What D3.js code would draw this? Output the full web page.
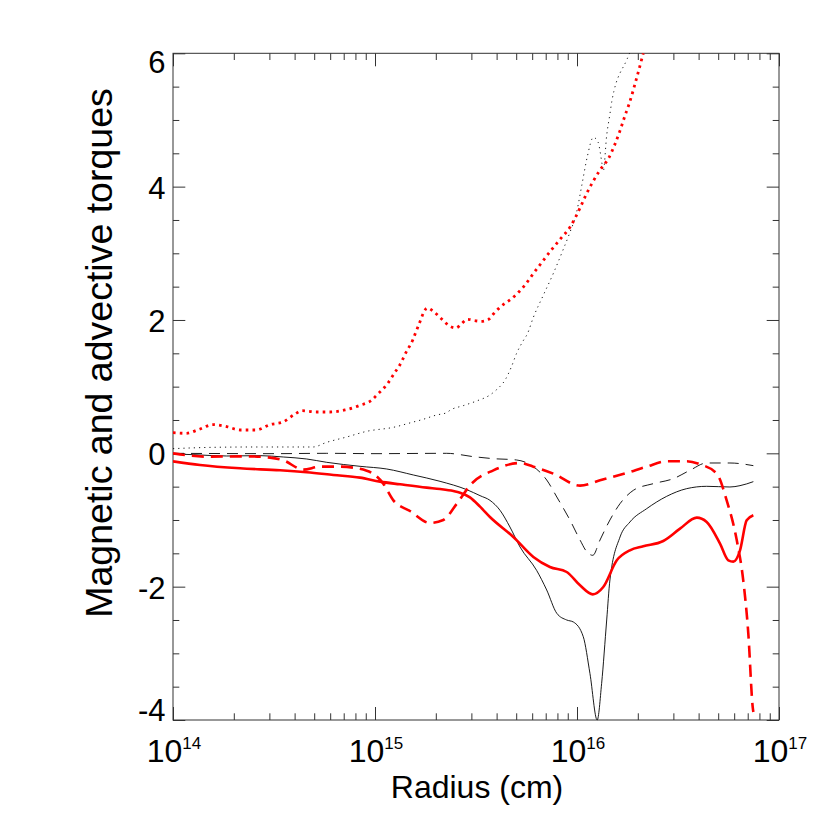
<!DOCTYPE html>
<html>
<head>
<meta charset="utf-8">
<script src="https://cdn.jsdelivr.net/npm/d3@7/dist/d3.min.js"></script>
<style>
  html, body { margin: 0; padding: 0; background: #fff; }
  svg { display: block; font-family: "Liberation Sans", Arial, Helvetica, sans-serif; }
</style>
</head>
<body>
<svg id="chart" width="830" height="830"></svg>
<script>
// ---- Data (x given as log10 of radius in cm) ----
const xTickExponents = [14, 15, 16, 17];
const yTickValues = [-4, -2, 0, 2, 4, 6];

const blackSolidLogR = [14.0, 14.1, 14.266, 14.431, 14.546, 14.662, 14.761, 14.926, 15.058, 15.190, 15.322, 15.454, 15.52, 15.569, 15.619, 15.668, 15.718, 15.800, 15.850, 15.900, 15.949, 15.982, 16.031, 16.064, 16.100, 16.122, 16.147, 16.163, 16.213, 16.262, 16.345, 16.444, 16.543, 16.642, 16.757, 16.807, 16.873];
const blackSolidVal  = [-0.01, -0.02, -0.04, -0.035, -0.055, -0.085, -0.135, -0.195, -0.235, -0.325, -0.42, -0.545, -0.635, -0.705, -0.855, -1.105, -1.405, -1.755, -2.05, -2.40, -2.50, -2.53, -2.75, -3.30, -4.0, -3.45, -2.50, -1.90, -1.255, -1.03, -0.83, -0.645, -0.53, -0.495, -0.505, -0.485, -0.425];

const blackDashLogR = [14.0, 14.5, 14.761, 15.0, 15.355, 15.487, 15.586, 15.701, 15.784, 15.850, 15.900, 15.965, 16.015, 16.048, 16.078, 16.114, 16.163, 16.213, 16.279, 16.378, 16.477, 16.559, 16.642, 16.757, 16.873];
const blackDashVal  = [0.0, -0.005, 0.0, -0.005, 0.0, -0.05, -0.08, -0.1, -0.2, -0.4, -0.655, -1.0, -1.3, -1.475, -1.53, -1.3, -1.0, -0.755, -0.555, -0.455, -0.38, -0.255, -0.145, -0.145, -0.185];

const blackDotLogR = [14.0, 14.2, 14.4, 14.6, 14.693, 14.761, 14.860, 14.959, 15.091, 15.190, 15.233, 15.305, 15.355, 15.371, 15.437, 15.503, 15.569, 15.602, 15.645, 15.675, 15.701, 15.734, 15.754, 15.784, 15.833, 15.883, 15.932, 15.962, 15.999, 16.025, 16.051, 16.081, 16.104, 16.124, 16.130, 16.147, 16.163, 16.173, 16.249, 16.26];
const blackDotVal  = [0.07, 0.09, 0.095, 0.095, 0.095, 0.165, 0.245, 0.33, 0.39, 0.47, 0.505, 0.575, 0.61, 0.645, 0.715, 0.785, 0.875, 0.955, 1.105, 1.295, 1.50, 1.69, 1.79, 2.04, 2.37, 2.70, 3.06, 3.29, 3.63, 4.04, 4.45, 4.74, 4.67, 4.34, 4.23, 4.77, 5.09, 5.29, 5.92, 6.0];

const redSolidLogR = [14.0, 14.134, 14.332, 14.530, 14.662, 14.794, 14.926, 15.025, 15.124, 15.256, 15.322, 15.388, 15.421, 15.470, 15.52, 15.569, 15.685, 15.784, 15.866, 15.949, 16.015, 16.078, 16.130, 16.197, 16.262, 16.328, 16.427, 16.510, 16.593, 16.642, 16.708, 16.749, 16.774, 16.807, 16.840, 16.873];
const redSolidVal  = [-0.12, -0.175, -0.225, -0.255, -0.285, -0.325, -0.365, -0.425, -0.465, -0.515, -0.535, -0.565, -0.59, -0.66, -0.80, -0.955, -1.255, -1.555, -1.705, -1.78, -1.98, -2.115, -2.005, -1.605, -1.455, -1.395, -1.315, -1.13, -0.965, -1.03, -1.355, -1.605, -1.625, -1.455, -1.005, -0.93];

const redDashLogR = [14.0, 14.167, 14.365, 14.480, 14.546, 14.645, 14.728, 14.827, 14.959, 15.041, 15.091, 15.173, 15.272, 15.338, 15.404, 15.478, 15.586, 15.718, 15.784, 15.883, 16.015, 16.114, 16.246, 16.345, 16.444, 16.543, 16.609, 16.692, 16.741, 16.791, 16.823, 16.848, 16.870, 16.873];
const redDashVal  = [0.0, -0.05, -0.045, -0.065, -0.105, -0.245, -0.2, -0.2, -0.26, -0.455, -0.705, -0.865, -1.045, -1.0, -0.76, -0.455, -0.255, -0.145, -0.2, -0.305, -0.485, -0.405, -0.295, -0.2, -0.12, -0.12, -0.165, -0.305, -0.705, -1.305, -1.905, -2.70, -3.81, -3.88];

const redDotLogR = [14.0, 14.064, 14.130, 14.197, 14.266, 14.332, 14.411, 14.480, 14.545, 14.604, 14.639, 14.711, 14.777, 14.851, 14.926, 14.985, 15.011, 15.038, 15.061, 15.081, 15.100, 15.120, 15.137, 15.153, 15.170, 15.187, 15.200, 15.213, 15.226, 15.239, 15.259, 15.289, 15.315, 15.342, 15.368, 15.401, 15.427, 15.457, 15.494, 15.526, 15.563, 15.586, 15.612, 15.639, 15.668, 15.695, 15.721, 15.744, 15.787, 15.830, 15.873, 15.919, 15.965, 16.015, 16.045, 16.078, 16.114, 16.157, 16.187, 16.213, 16.236, 16.259, 16.299, 16.328];
const redDotVal  = [0.31, 0.30, 0.36, 0.43, 0.40, 0.35, 0.35, 0.43, 0.47, 0.59, 0.64, 0.62, 0.62, 0.65, 0.72, 0.80, 0.88, 0.96, 1.04, 1.13, 1.22, 1.31, 1.41, 1.51, 1.60, 1.70, 1.80, 1.90, 2.00, 2.10, 2.18, 2.13, 2.06, 1.98, 1.91, 1.88, 1.94, 2.01, 1.99, 1.98, 2.01, 2.09, 2.17, 2.24, 2.30, 2.37, 2.45, 2.53, 2.71, 2.88, 3.05, 3.22, 3.39, 3.68, 3.88, 4.07, 4.25, 4.43, 4.63, 4.84, 5.05, 5.25, 5.67, 6.0];

const series = [
  { logR: blackSolidLogR, val: blackSolidVal, color: "#000", width: 0.9, dash: null },
  { logR: blackDashLogR,  val: blackDashVal,  color: "#000", width: 0.9, dash: "11,7" },
  { logR: blackDotLogR,   val: blackDotVal,   color: "#000", width: 0.9, dash: "1.2,4" },
  { logR: redSolidLogR,   val: redSolidVal,   color: "#ff0000", width: 2.6, dash: null },
  { logR: redDashLogR,    val: redDashVal,    color: "#ff0000", width: 2.6, dash: "12,7" },
  { logR: redDotLogR,     val: redDotVal,     color: "#ff0000", width: 2.8, dash: "2.6,4.2" }
];

// ---- Layout ----
const L = 173, R = 779, T = 53.3, B = 720;
const svg = d3.select("#chart");

const x = d3.scaleLog().domain([1e14, 1e17]).range([L, R]);
const y = d3.scaleLinear().domain([-4, 6]).range([B, T]);

// minor ticks
const xMinor = [];
for (let e = 14; e < 17; e++) for (let m = 2; m <= 9; m++) xMinor.push(m * Math.pow(10, e));
const xMajor = xTickExponents.map(e => Math.pow(10, e));
const yMinor = d3.range(-4, 6.01, 0.5).filter(v => Math.abs(v % 2) > 1e-9);

const axisColor = "#333";
function styleAxis(g) {
  g.select(".domain").remove();
  g.selectAll(".tick line").attr("stroke", axisColor).attr("stroke-width", 1);
  g.selectAll(".tick text").remove();
}

// bottom axis (ticks inward)
svg.append("g").attr("transform", `translate(0,${B})`)
  .call(d3.axisBottom(x).tickValues(xMajor).tickSize(-13).tickFormat("")).call(styleAxis);
svg.append("g").attr("transform", `translate(0,${B})`)
  .call(d3.axisBottom(x).tickValues(xMinor).tickSize(-6.7).tickFormat("")).call(styleAxis);
// top axis
svg.append("g").attr("transform", `translate(0,${T})`)
  .call(d3.axisTop(x).tickValues(xMajor).tickSize(-13).tickFormat("")).call(styleAxis);
svg.append("g").attr("transform", `translate(0,${T})`)
  .call(d3.axisTop(x).tickValues(xMinor).tickSize(-6.7).tickFormat("")).call(styleAxis);
// left axis
svg.append("g").attr("transform", `translate(${L},0)`)
  .call(d3.axisLeft(y).tickValues(yTickValues).tickSize(-12.3).tickFormat("")).call(styleAxis);
svg.append("g").attr("transform", `translate(${L},0)`)
  .call(d3.axisLeft(y).tickValues(yMinor).tickSize(-6.3).tickFormat("")).call(styleAxis);
// right axis
svg.append("g").attr("transform", `translate(${R},0)`)
  .call(d3.axisRight(y).tickValues(yTickValues).tickSize(-12.3).tickFormat("")).call(styleAxis);
svg.append("g").attr("transform", `translate(${R},0)`)
  .call(d3.axisRight(y).tickValues(yMinor).tickSize(-6.3).tickFormat("")).call(styleAxis);

// frame
svg.append("rect").attr("x", L).attr("y", T).attr("width", R - L).attr("height", B - T)
  .attr("fill", "none").attr("stroke", axisColor).attr("stroke-width", 1);

// clip
svg.append("clipPath").attr("id", "plotclip").append("rect")
  .attr("x", L).attr("y", T - 0.5).attr("width", R - L).attr("height", B - T + 1);

const line = d3.line().x(d => x(d[0])).y(d => y(d[1])).curve(d3.curveMonotoneX);
const plot = svg.append("g").attr("clip-path", "url(#plotclip)");
series.forEach(s => {
  const pts = s.logR.map((lr, i) => [Math.pow(10, lr), s.val[i]]);
  const p = plot.append("path").datum(pts)
    .attr("d", line)
    .attr("fill", "none")
    .attr("stroke", s.color)
    .attr("stroke-width", s.width)
    .attr("stroke-linejoin", "round");
  if (s.dash) p.attr("stroke-dasharray", s.dash);
});

// y tick labels
svg.append("g").selectAll("text").data(yTickValues).join("text")
  .attr("x", 165.5)
  .attr("y", d => Math.min(Math.max(y(d) + 12, T + 19.4), B + 0.7))
  .attr("text-anchor", "end")
  .attr("font-size", 31)
  .attr("fill", "#000")
  .text(d => String(d));

// x tick labels (10^n)
const xl = svg.append("g").selectAll("text").data(xTickExponents).join("text")
  .attr("x", d => x(Math.pow(10, d)) + 1)
  .attr("y", 762)
  .attr("text-anchor", "middle")
  .attr("font-size", 32)
  .attr("fill", "#000");
xl.append("tspan").text("10");
xl.append("tspan").attr("font-size", 17).attr("dy", -13.5).text(d => String(d));

// axis titles
svg.append("text").attr("x", (L + R) / 2 + 1).attr("y", 798)
  .attr("text-anchor", "middle").attr("font-size", 32).attr("fill", "#000")
  .text("Radius (cm)");
svg.append("text").attr("transform", "translate(112,353) rotate(-90)")
  .attr("text-anchor", "middle").attr("font-size", 37.5).attr("fill", "#000")
  .text("Magnetic and advective torques");
</script>
</body>
</html>
